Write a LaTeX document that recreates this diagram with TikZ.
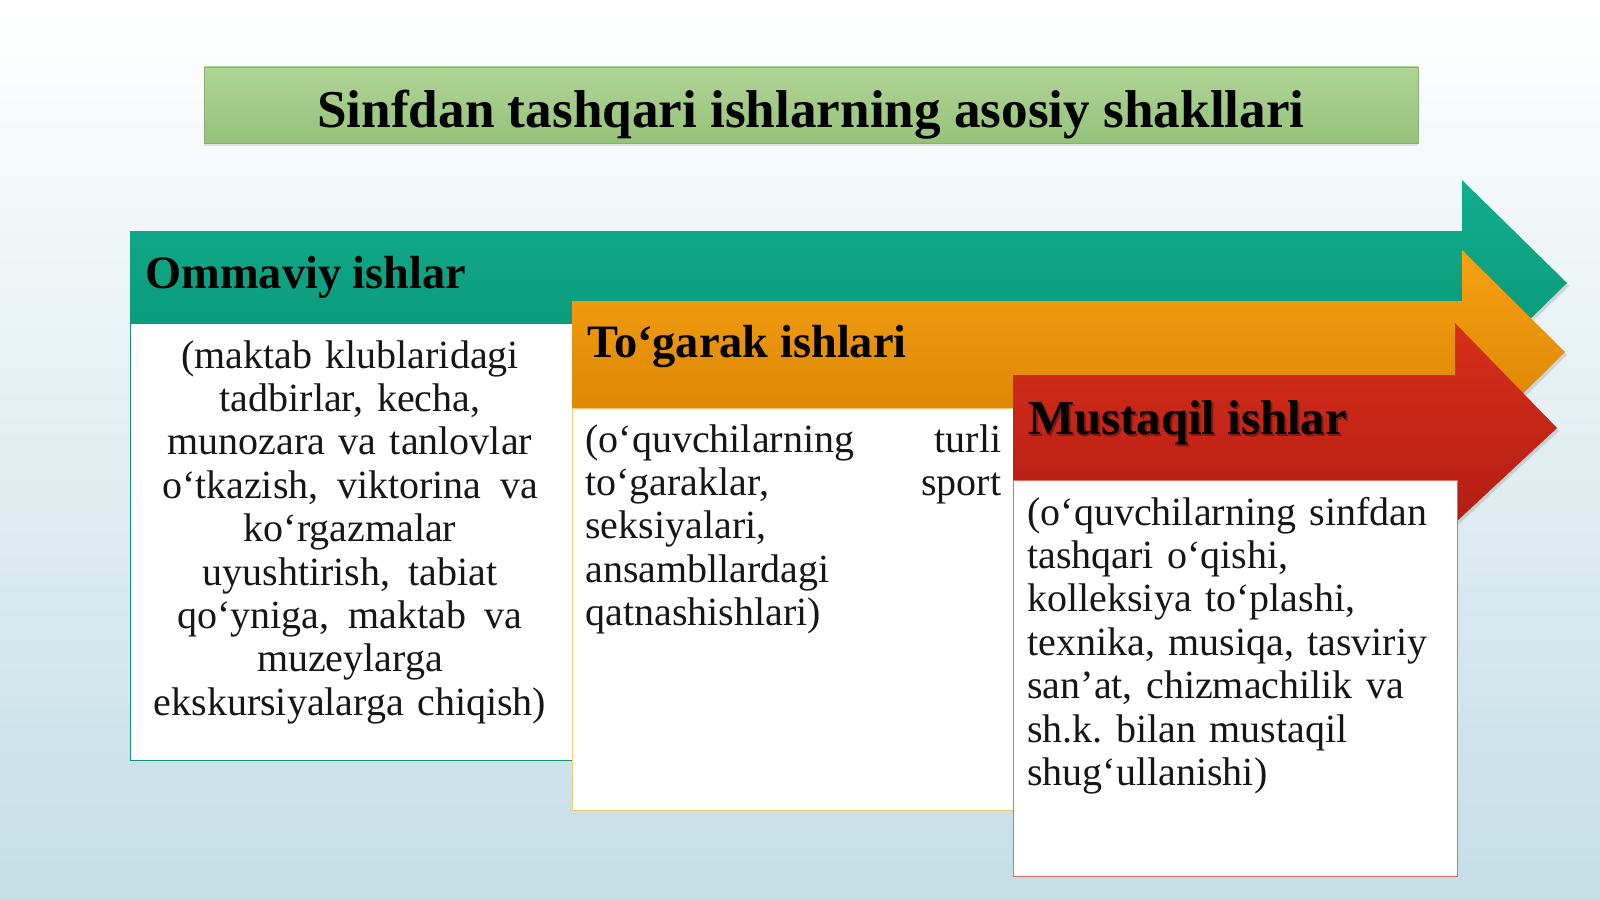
\documentclass[tikz,border=0pt]{standalone}
\usepackage{fontspec}
\setmainfont{Liberation Serif}
\usetikzlibrary{shadows}
\frenchspacing

\definecolor{bgblue}{RGB}{196,222,229}
\definecolor{titletop}{RGB}{176,212,150}
\definecolor{titlebot}{RGB}{150,194,122}
\definecolor{titleline}{RGB}{136,178,108}
\definecolor{tealtop}{RGB}{18,174,142}
\definecolor{tealbot}{RGB}{6,148,116}
\definecolor{orangetop}{RGB}{247,162,18}
\definecolor{orangebot}{RGB}{214,128,2}
\definecolor{redtop}{RGB}{216,46,26}
\definecolor{redbot}{RGB}{178,30,20}
\definecolor{inkgray}{RGB}{22,22,22}

\tikzset{
  band/.style={drop shadow={opacity=0.25,shadow xshift=1pt,shadow yshift=-1.5pt}},
  headtext/.style={anchor=base west,inner sep=0pt,text=black,
    font=\fontsize{23.2}{27}\selectfont\bfseries},
  bodytext/.style={anchor=base,inner sep=0pt,text=inkgray,
    font=\fontsize{20}{21.7}\selectfont},
}

\begin{document}
\begin{tikzpicture}[x=0.5pt,y=0.5pt,yscale=-1,xscale=1]

    \useasboundingbox (0,0) rectangle (1600,899);
    % background
    \shade [top color=white, middle color=white!65!bgblue, bottom color=bgblue] (0,0) rectangle (1600,899);

    % title
    \shade [draw=titleline, top color=titletop, bottom color=titlebot, drop shadow={opacity=0.2,shadow xshift=0pt,shadow yshift=-1.5pt}] (204,67) rectangle (1418,143);
    \node (title) [anchor=base, inner sep=0pt, font=\fontsize{26.6}{30}\selectfont\bfseries] at (811,127) {Sinfdan tashqari ishlarning asosiy shakllari};

    % green arrow
    \shade [band, top color=tealtop, bottom color=tealbot] (130,231) -- (1462,231) -- (1462,180) -- (1567,283) -- (1462,386) -- (1462,323) -- (130,323) -- cycle;
    \draw [draw=tealtop!85!black, fill=white] (130,323) rectangle (572,760);
    \node (ommaviy) [headtext] at (145,288) {Ommaviy ishlar};

    % orange arrow
    \shade [band, top color=orangetop, bottom color=orangebot] (572,301) -- (1462,301) -- (1462,250) -- (1565,352) -- (1462,454) -- (1462,408) -- (572,408) -- cycle;
    \draw [draw=orangetop!60!white, fill=white] (572,408) rectangle (1013,810);
    \node (togarak) [headtext] at (587,357) {To‘garak ishlari};

    % red arrow
    \shade [band, top color=redtop, bottom color=redbot] (1013,375) -- (1455,375) -- (1455,323) -- (1557,428) -- (1455,523) -- (1455,480) -- (1013,480) -- cycle;
    \draw [draw=redtop!70!white, fill=white] (1013,480) rectangle (1457,876);
    \node (mustaqilshadow) [headtext, text=black!70!redbot, opacity=0.45, font=\fontsize{24.4}{28}\selectfont\bfseries] at (1030,436) {Mustaqil ishlar};
    \node (mustaqil) [headtext, font=\fontsize{24.4}{28}\selectfont\bfseries] at (1028,434) {Mustaqil ishlar};

    % texts
    \node (ommaviytext) [bodytext, align=center, text width=220pt] at (350,368) {(maktab klublaridagi\\ tadbirlar, kecha,\\ munozara va tanlovlar\\
      \makebox[188pt]{o‘tkazish,\hfill viktorina\hfill va}\\ ko‘rgazmalar\\ \makebox[147.5pt]{uyushtirish,\hfill tabiat}\\
      \makebox[172.5pt]{qo‘yniga,\hfill maktab\hfill va}\\ muzeylarga\\ ekskursiyalarga chiqish)};
    \node (togaraktext) [bodytext, anchor=base west, align=left, text width=208pt] at (585,452) {(o‘quvchilarning\hfill turli\\
      to‘garaklar,\hfill sport\\ seksiyalari,\\ ansambllardagi\\ qatnashishlari)};
    \node (mustaqiltext) [bodytext, anchor=base west, align=left, text width=215pt] at (1027,525) {(o‘quvchilarning sinfdan\\ tashqari o‘qishi,\\
      kolleksiya to‘plashi,\\ texnika, musiqa, tasviriy\\ san’at, chizmachilik va\\ sh.k. bilan mustaqil\\ shug‘ullanishi)};

\end{tikzpicture}
\end{document}
